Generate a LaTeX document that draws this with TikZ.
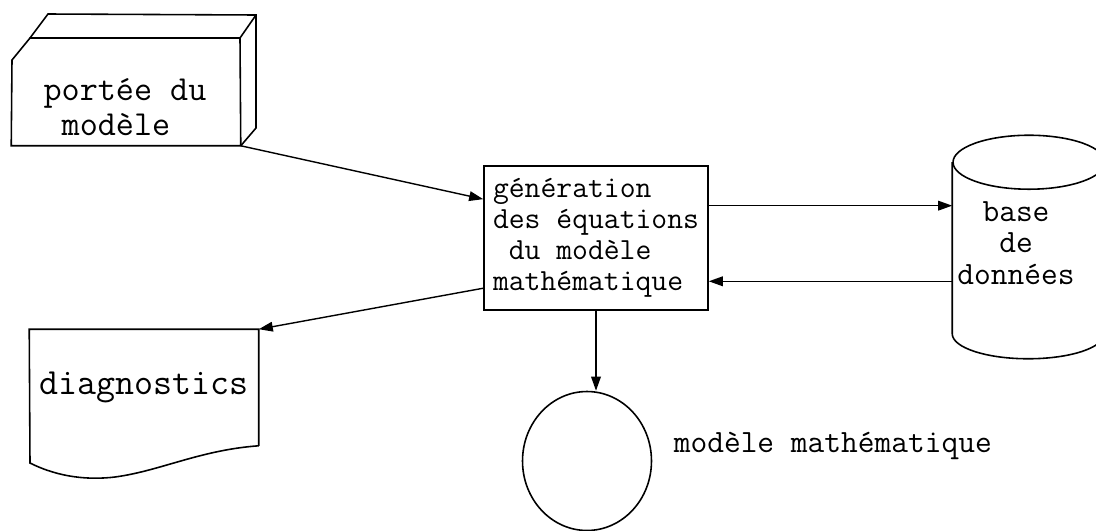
\documentclass[tikz,border=0pt]{standalone}
\usepackage{fontspec}
\usetikzlibrary{arrows.meta,shapes.geometric,positioning}

\begin{document}
\begin{tikzpicture}[x=0.02cm, y=-0.02cm, line width=0.9pt,
        >={Triangle[length=8pt,width=5.5pt]},
        ghost/.style={rectangle, inner sep=0pt},
        tw/.style={inner sep=0pt, font={\fontsize{#1}{#1}\selectfont\ttfamily}}]
        \useasboundingbox (0,0) rectangle (1096,531);

        % portee du modele (bloc de cartes)
        \node[ghost, minimum width=4.56cm, minimum height=2.14cm](portee) at (126, 91.5){};
        \draw (12,60) -- (30,38) -- (240,38) -- (portee.south east) -- (portee.south west) -- cycle;
        \draw (30,38) -- (48,14) -- (256,15) -- (256,128) -- (portee.south east);
        \draw (240,38) -- (256,15);
        \node[tw=20, align=left, font={\fontsize{20}{19.8}\selectfont\ttfamily}](porteetxt) at (125, 107){port\'ee du\\~mod\`ele};

        % generation
        \node[draw, minimum width=4.48cm, minimum height=2.88cm, align=left, inner sep=0pt,
            font={\fontsize{17.5}{17.6}\selectfont\ttfamily}](gen) at (596, 238)
            {g\'en\'eration\\des \'equations\\~du mod\`ele\\math\'ematique};

        % base de donnees
        \node[ghost, minimum width=3.04cm, minimum height=3.4cm](db) at (1029, 248){};
        \draw (db.north west) -- (db.south west)
            arc[start angle=180, end angle=360, x radius=1.52cm, y radius=0.5cm] -- (db.north east);
        \draw (db.north) ellipse[x radius=1.52cm, y radius=0.54cm];
        \node[tw=18.5, align=center, font={\fontsize{18.5}{18}\selectfont\ttfamily}](dbtxt) at (1016, 243){base\\de\\donn\'ees};

        % diagnostics
        \node[ghost, minimum width=4.56cm, minimum height=2.3cm, tw=21](diag) at (144, 387.5){diagnostics};
        \draw (diag.south east) -- (diag.north east) -- (diag.north west) -- (30,463)
            .. controls (60,478) and (90,480) .. (115,477)
            .. controls (160,471) and (200,450) .. (diag.south east);

        % modele mathematique
        \node[draw, ellipse, minimum width=2.58cm, minimum height=2.78cm](mm) at (587, 461){};
        \node[tw=18.5, anchor=base west](mmtxt) at (673, 452){mod\`ele math\'ematique};

        \path[->, line width=0.8pt]
            (portee.south east) edge (gen.161)
            (gen.16) edge (gen.16 -| db.west)
            (gen.-21 -| db.west) edge (gen.-21)
            (gen.204) edge (diag.north east)
            (gen.south) edge (gen.south |- mm.north)
            ;
    \end{tikzpicture}
\end{document}
